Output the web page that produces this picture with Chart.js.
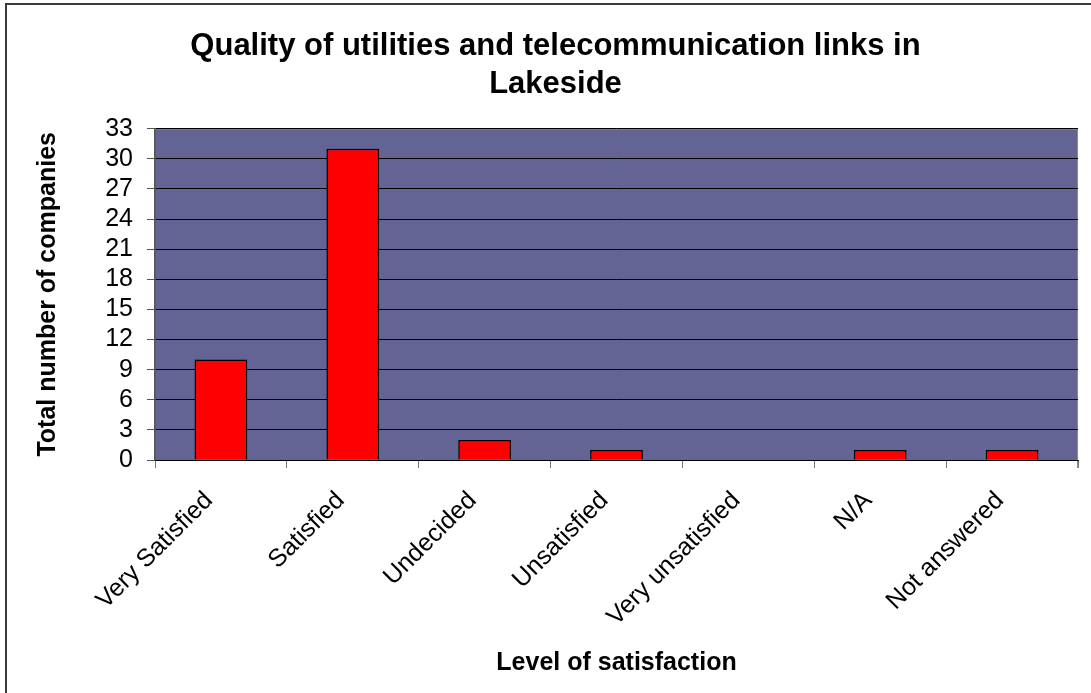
<!DOCTYPE html>
<html>
<head>
    <title>Quality of utilities and telecommunication links in Lakeside</title>
    <script src="https://cdn.jsdelivr.net/npm/chart.js"></script>
    <style>
        html, body { margin: 0; padding: 0; background: #fff; overflow: hidden; }
        #wrap { position: relative; width: 1091px; height: 693px; }
        #frame { position: absolute; left: 5px; top: 3px; width: 2000px; height: 2000px;
                 border-left: 2px solid #3a3a3a; border-top: 2px solid #3a3a3a; pointer-events: none; }
    </style>
</head>
<body>
    <div id="wrap">
        <canvas id="satisfactionChart" width="1091" height="693"></canvas>
        <div id="frame"></div>
    </div>

    <script>
        // data
        const categories = ['Very Satisfied', 'Satisfied', 'Undecided', 'Unsatisfied', 'Very unsatisfied', 'N/A', 'Not answered'];
        const companies = [10, 31, 2, 1, 0, 1, 1];
        const yTicks = [0, 3, 6, 9, 12, 15, 18, 21, 24, 27, 30, 33];

        const font = 'Liberation Sans, Arial, sans-serif';

        // fill plot area with the Excel-style blue-grey
        const plotBackground = {
            id: 'plotBackground',
            beforeDraw(chart) {
                const { ctx, chartArea } = chart;
                ctx.save();
                ctx.fillStyle = '#636394';
                ctx.fillRect(chartArea.left, chartArea.top, chartArea.right - chartArea.left, chartArea.bottom - chartArea.top);
                ctx.strokeStyle = '#8a8a8a';
                ctx.lineWidth = 1;
                ctx.beginPath();
                ctx.moveTo(chartArea.left, chartArea.top + 0.5);
                ctx.lineTo(chartArea.right - 0.5, chartArea.top + 0.5);
                ctx.lineTo(chartArea.right - 0.5, chartArea.bottom + 8);
                ctx.stroke();
                ctx.restore();
            }
        };

        const ctx = document.getElementById('satisfactionChart').getContext('2d');
        new Chart(ctx, {
            type: 'bar',
            data: {
                labels: categories,
                datasets: [{
                    label: 'Total number of companies',
                    data: companies,
                    backgroundColor: '#ff0000',
                    borderColor: '#000000',
                    borderWidth: 1.5,
                    barPercentage: 0.4,
                    categoryPercentage: 1.0
                }]
            },
            options: {
                responsive: false,
                animation: false,
                layout: { padding: { left: 33, right: 13, top: 0, bottom: 15 } },
                plugins: {
                    legend: { display: false },
                    tooltip: { enabled: false },
                    title: {
                        display: true,
                        text: ['Quality of utilities and telecommunication links in', 'Lakeside'],
                        color: '#000',
                        font: { family: font, size: 31, weight: 'bold', lineHeight: 1.22 },
                        padding: { top: 28, bottom: 25 }
                    }
                },
                scales: {
                    x: {
                        afterFit(scale) { scale.height = 218; },
                        grid: {
                            offset: true,
                            drawOnChartArea: false,
                            drawTicks: true,
                            tickLength: 8,
                            tickColor: '#777'
                        },
                        border: { color: '#000', width: 1 },
                        ticks: {
                            color: '#000',
                            font: { family: font, size: 25 },
                            maxRotation: 45,
                            minRotation: 45,
                            autoSkip: false,
                            padding: 18,
                            labelOffset: -12
                        },
                        title: {
                            display: true,
                            text: 'Level of satisfaction',
                            color: '#000',
                            font: { family: font, size: 25, weight: 'bold' },
                            padding: { top: 0, bottom: 0 }
                        }
                    },
                    y: {
                        min: 0,
                        max: 33,
                        afterBuildTicks(scale) {
                            scale.ticks = yTicks.map(v => ({ value: v }));
                        },
                        afterFit(scale) { scale.width = 122; },
                        grid: {
                            color: '#000',
                            lineWidth: 1,
                            drawTicks: true,
                            tickLength: 8,
                            tickColor: '#555'
                        },
                        border: { color: '#555', width: 1.5 },
                        ticks: {
                            color: '#000',
                            font: { family: font, size: 25 },
                            autoSkip: false,
                            padding: 14
                        },
                        title: {
                            display: true,
                            text: 'Total number of companies',
                            color: '#000',
                            font: { family: font, size: 25, weight: 'bold' },
                            padding: { top: 0, bottom: 0 }
                        }
                    }
                }
            },
            plugins: [plotBackground]
        });
    </script>
</body>
</html>
